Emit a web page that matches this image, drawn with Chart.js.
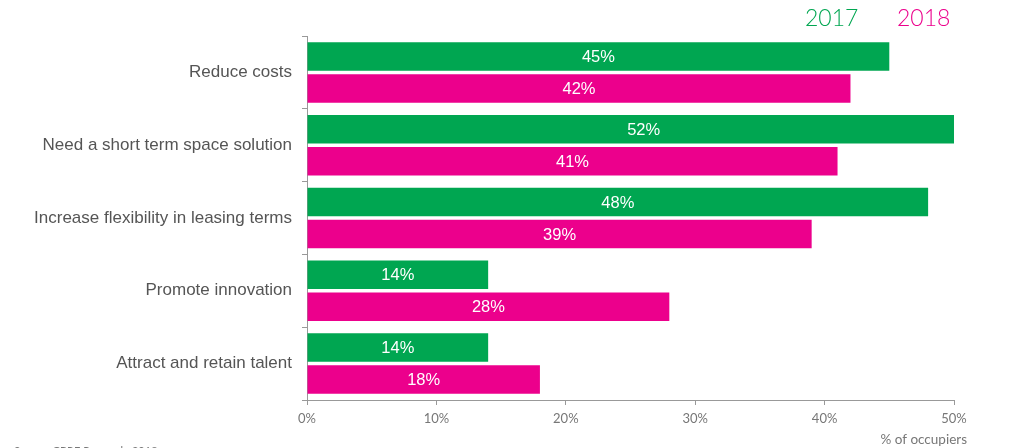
<!DOCTYPE html>
<html>
<head>
<meta charset="utf-8">
<script src="https://cdn.jsdelivr.net/npm/chart.js@4/dist/chart.umd.min.js"></script>
<style>
	html, body { margin: 0; padding: 0; background: #fff; }
	#wrap { width: 1024px; height: 448px; position: relative; }
</style>
</head>
<body>
<div id="wrap"><canvas id="chart" width="1024" height="448"></canvas></div>
<script>
/* ----- Data ----- */

const categories = [
	'Reduce costs',
	'Need a short term space solution',
	'Increase flexibility in leasing terms',
	'Promote innovation',
	'Attract and retain talent'
];
const values2017 = [45, 52, 48, 14, 14];
const values2018 = [42, 41, 39, 28, 18];
const seriesNames = ['2017', '2018'];
const xTicks = [0, 10, 20, 30, 40, 50];

const green = '#00A651';
const pink = '#EC008C';

/* ----- Plugins ----- */

// White value labels centred in each bar
const barLabels = {
	id: 'barLabels',
	afterDatasetsDraw(chart) {
		const ctx = chart.ctx;
		ctx.save();
		ctx.fillStyle = '#fff';
		ctx.font = '16.5px "Liberation Sans", Arial, sans-serif';
		ctx.textAlign = 'center';
		ctx.textBaseline = 'middle';
		chart.data.datasets.forEach((ds, i) => {
			chart.getDatasetMeta(i).data.forEach((bar, j) => {
				const left = Math.min(bar.x, bar.base);
				const right = Math.max(bar.x, bar.base);
				ctx.fillText(ds.data[j] + '%', (left + right) / 2, bar.y + 1);
			});
		});
		ctx.restore();
	}
};

// Coloured year legend top right, axis title and source line
const extras = {
	id: 'extras',
	afterDraw(chart) {
		const ctx = chart.ctx;
		const area = chart.chartArea;
		ctx.save();
		ctx.font = '300 23px Lato, "Noto Sans", sans-serif';
		ctx.textBaseline = 'middle';
		ctx.textAlign = 'left';
		ctx.fillStyle = green;
		ctx.fillText(seriesNames[0], 805, 19);
		ctx.fillStyle = pink;
		ctx.fillText(seriesNames[1], 897, 19);

		ctx.font = '13.5px Lato, "Noto Sans", sans-serif';
		ctx.fillStyle = '#777';
		ctx.textAlign = 'right';
		ctx.fillText('% of occupiers', area.right + 13, 440);

		ctx.font = '11px Lato, "Noto Sans", sans-serif';
		ctx.textAlign = 'left';
		ctx.fillText('Source: CBRE Research, 2018', 14, 451);
		ctx.restore();
	}
};

/* ----- Chart ----- */

new Chart(document.getElementById('chart'), {
	type: 'bar',
	data: {
		labels: categories,
		datasets: [
			{
				label: seriesNames[0],
				data: values2017,
				backgroundColor: green,
				barPercentage: 0.89,
				categoryPercentage: 0.88
			},
			{
				label: seriesNames[1],
				data: values2018,
				backgroundColor: pink,
				barPercentage: 0.89,
				categoryPercentage: 0.88
			}
		]
	},
	options: {
		indexAxis: 'y',
		responsive: false,
		animation: false,
		events: [],
		layout: {
			padding: { top: 36, right: 70, left: 0, bottom: 0 }
		},
		plugins: {
			legend: { display: false },
			tooltip: { enabled: false }
		},
		scales: {
			x: {
				min: 0,
				max: 50,
				afterBuildTicks: scale => {
					scale.ticks = xTicks.map(v => ({ value: v }));
				},
				afterFit: scale => {
					scale.height = 48;
				},
				grid: {
					drawOnChartArea: false,
					drawTicks: true,
					tickLength: 5,
					color: '#999'
				},
				border: { display: true, color: '#999' },
				ticks: {
					color: '#777',
					padding: 6,
					font: { size: 13, family: 'Lato, "Noto Sans", sans-serif' },
					callback: v => v + '%'
				}
			},
			y: {
				afterFit: scale => {
					scale.width = 307;
				},
				grid: {
					drawOnChartArea: false,
					drawTicks: true,
					tickLength: 5,
					color: '#999'
				},
				border: { display: true, color: '#999' },
				ticks: {
					color: '#555',
					padding: 10,
					font: { size: 17, family: '"Liberation Sans", Arial, sans-serif' }
				}
			}
		}
	},
	plugins: [barLabels, extras]
});
</script>
</body>
</html>
